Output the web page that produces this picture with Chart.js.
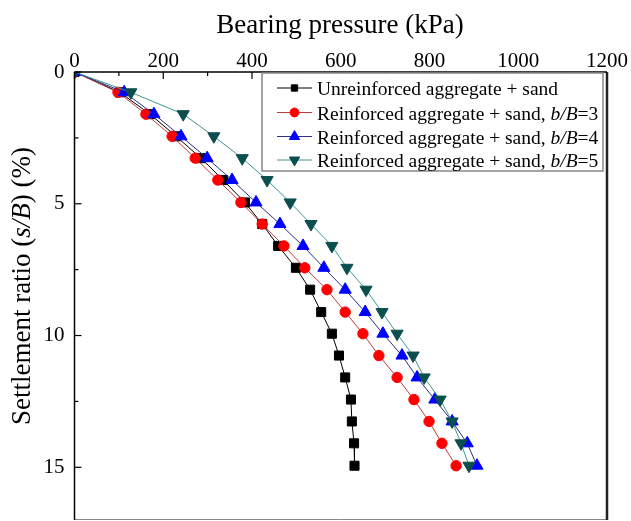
<!DOCTYPE html>
<html>
<head>
<meta charset="utf-8">
<script src="https://cdn.jsdelivr.net/npm/chart.js@4.4.1/dist/chart.umd.min.js"></script>
<style>
  html, body { margin: 0; padding: 0; background: #fff; }
  #wrap { width: 631px; height: 521px; }
</style>
</head>
<body>
<div id="wrap"><canvas id="chart" width="631" height="521"></canvas></div>
<script>
// Settlement ratio s/B (%) - same readings for every test
const settlement = [0, 0.77, 1.60, 2.44, 3.27, 4.10, 4.95, 5.77, 6.60, 7.43, 8.26, 9.11, 9.93, 10.76, 11.59, 12.43, 13.26, 14.09, 14.94];

// Bearing pressure (kPa) for each test
const unreinforced = [0, 102, 170, 229, 285, 335, 384, 423, 459, 499, 531, 556, 580, 596, 610, 623, 625, 630, 631];
const reinforced3 = [0, 98, 161, 220, 272, 323, 375, 423, 472, 519, 569, 610, 650, 686, 727, 765, 799, 828, 860];
const reinforced4 = [0, 112, 179, 240, 299, 355, 409, 463, 515, 562, 610, 655, 695, 738, 772, 812, 851, 885, 907];
const reinforced5 = [0, 127, 245, 314, 378, 434, 486, 533, 580, 614, 657, 693, 727, 763, 788, 824, 851, 871, 889];

// *...* marks the italic part
const seriesNames = [
    'Unreinforced aggregate + sand',
    'Reinforced aggregate + sand, *b/B*=3',
    'Reinforced aggregate + sand, *b/B*=4',
    'Reinforced aggregate + sand, *b/B*=5'
];

const xTitle = 'Bearing pressure (kPa)';
const yTitle = 'Settlement ratio (*s/B*) (%)';

const FONT = '"Liberation Serif", "Times New Roman", serif';

function toPoints(xs) {
    return xs.map((v, i) => ({ x: v, y: settlement[i] }));
}

function splitItalic(text) {
    return text.split('*').map((t, i) => [t, i % 2 === 1]).filter(p => p[0].length);
}

function drawRich(ctx, text, x, y, size, align) {
    const parts = splitItalic(text);
    const font = it => (it ? 'italic ' : '') + size + 'px ' + FONT;
    let total = 0;
    parts.forEach(([t, it]) => { ctx.font = font(it); total += ctx.measureText(t).width; });
    let cx = align === 'center' ? x - total / 2 : x;
    ctx.textAlign = 'left';
    ctx.textBaseline = 'alphabetic';
    parts.forEach(([t, it]) => {
        ctx.font = font(it);
        ctx.fillText(t, cx, y);
        cx += ctx.measureText(t).width;
    });
}

function line(ctx, x1, y1, x2, y2) {
    ctx.beginPath();
    ctx.moveTo(x1, y1);
    ctx.lineTo(x2, y2);
    ctx.stroke();
}

// frame, inward ticks, axis titles and the boxed legend
const decorations = {
    id: 'decorations',
    afterDraw(chart) {
        const { ctx, chartArea: a, scales: { x, y } } = chart;
        ctx.save();

        // ticks pointing into the plot
        ctx.strokeStyle = '#000';
        ctx.lineWidth = 1.2;
        x.ticks.forEach(t => {
            const px = x.getPixelForValue(t.value);
            line(ctx, px, a.top, px, a.top + (t.value % 200 === 0 ? 7 : 4));
        });
        y.ticks.forEach(t => {
            const py = y.getPixelForValue(t.value);
            line(ctx, a.left, py, a.left + (t.value % 5 === 0 ? 7 : 4), py);
        });

        // frame
        ctx.strokeStyle = '#888';
        ctx.lineWidth = 1;
        line(ctx, a.left, a.bottom - 0.5, a.right, a.bottom - 0.5);
        ctx.strokeStyle = '#222';
        ctx.lineWidth = 2.5;
        line(ctx, a.right, a.top, a.right, a.bottom);
        ctx.strokeStyle = '#000';
        ctx.lineWidth = 1.5;
        line(ctx, a.left, a.top, a.right, a.top);
        line(ctx, a.left, a.top, a.left, a.bottom);

        // axis titles
        ctx.fillStyle = '#000';
        drawRich(ctx, xTitle, 340, 33, 27, 'center');
        ctx.save();
        ctx.translate(30, 286);
        ctx.rotate(-Math.PI / 2);
        drawRich(ctx, yTitle, 0, 0, 27, 'center');
        ctx.restore();

        // legend
        const box = { left: 262, top: 73, w: 341, h: 98 };
        ctx.fillStyle = '#fff';
        ctx.fillRect(box.left, box.top, box.w, box.h);
        ctx.strokeStyle = '#888';
        ctx.lineWidth = 1.5;
        ctx.strokeRect(box.left, box.top, box.w, box.h);

        const rows = [88, 112.5, 136.5, 160];
        chart.data.datasets.forEach((ds, i) => {
            const ry = rows[i];
            ctx.strokeStyle = ds.borderColor;
            ctx.lineWidth = 1;
            line(ctx, 277, ry, 312, ry);
            ctx.fillStyle = ds.pointBackgroundColor;
            ctx.strokeStyle = ds.pointBorderColor;
            const opts = {
                pointStyle: ds.pointStyle,
                rotation: ds.pointRotation || 0,
                radius: ds.pointRadius * (ds.pointStyle === 'rect' ? 0.7 : 0.85),
                borderWidth: 1
            };
            if (Chart.helpers && Chart.helpers.drawPoint) {
                Chart.helpers.drawPoint(ctx, opts, 294.5, ry);
            } else {
                ctx.beginPath();
                ctx.arc(294.5, ry, opts.radius, 0, Math.PI * 2);
                ctx.fill();
            }
            ctx.fillStyle = '#000';
            drawRich(ctx, seriesNames[i], 317, ry + 7, 19.5, 'left');
        });

        ctx.restore();
    }
};

function series(data, lineColor, markColor, style, radius, rotation, order) {
    return {
        data: toPoints(data),
        borderColor: lineColor,
        borderWidth: 1,
        backgroundColor: markColor,
        pointBackgroundColor: markColor,
        pointBorderColor: markColor,
        pointBorderWidth: 1,
        pointStyle: style,
        pointRadius: radius,
        pointRotation: rotation,
        tension: 0,
        fill: false,
        order: order
    };
}

// labels hang off the axes, so drop the extra room Chart.js keeps for them
function noScalePadding(s) {
    s.paddingTop = 0;
    s.paddingBottom = 0;
    s.paddingLeft = 0;
    s.paddingRight = 0;
}

new Chart(document.getElementById('chart'), {
    type: 'line',
    data: {
        datasets: [
            series(unreinforced, '#000000', '#000000', 'rect', 6.4, 0, 4),
            series(reinforced3, '#c03a3a', '#ff0000', 'circle', 5.2, 0, 3),
            series(reinforced4, '#2e2e8c', '#0000ff', 'triangle', 7, 0, 2),
            series(reinforced5, '#3f9696', '#0b4e4e', 'triangle', 7, 180, 1)
        ]
    },
    options: {
        responsive: false,
        animation: false,
        devicePixelRatio: 1,
        layout: { autoPadding: false, padding: { left: 0, top: 0, right: 24, bottom: 1 } },
        plugins: {
            legend: { display: false },
            tooltip: { enabled: false }
        },
        scales: {
            x: {
                type: 'linear',
                position: 'top',
                min: 0,
                max: 1200,
                afterFit: s => {
                    s.height = 72;
                    noScalePadding(s);
                },
                grid: { display: false, drawTicks: false },
                border: { display: false },
                ticks: {
                    stepSize: 100,
                    autoSkip: false,
                    maxRotation: 0,
                    padding: -2,
                    color: '#000',
                    font: { family: FONT, size: 21 },
                    callback: v => (v % 200 === 0 ? v : '')
                }
            },
            y: {
                type: 'linear',
                reverse: true,
                min: 0,
                max: 17,
                afterFit: s => {
                    s.width = 74.5;
                    noScalePadding(s);
                },
                grid: { display: false, drawTicks: false },
                border: { display: false },
                ticks: {
                    stepSize: 2.5,
                    includeBounds: false,
                    autoSkip: false,
                    padding: 10,
                    color: '#000',
                    font: { family: FONT, size: 21 },
                    callback: v => (v % 5 === 0 ? v : '')
                }
            }
        }
    },
    plugins: [decorations]
});
</script>
</body>
</html>
